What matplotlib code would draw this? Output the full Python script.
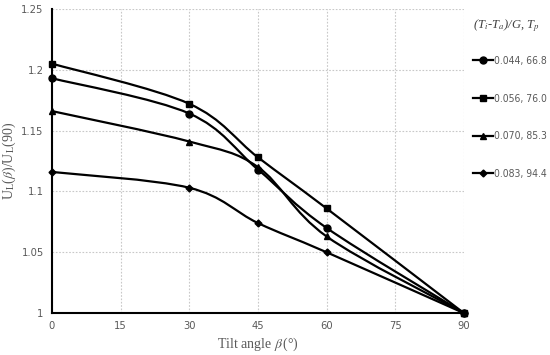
import numpy as np
import matplotlib
matplotlib.use("Agg")
import matplotlib.pyplot as plt
from matplotlib.path import Path
from matplotlib.patches import PathPatch
from matplotlib.lines import Line2D

plt.rcParams['mathtext.fontset'] = 'stix'

# data
tilt = [0, 30, 45, 60, 90]
labels = ['0.044, 66.8', '0.056, 76.0', '0.070, 85.3', '0.083, 94.4']
ratio_044 = [1.193, 1.164, 1.118, 1.070, 1.0]
ratio_056 = [1.205, 1.172, 1.128, 1.086, 1.0]
ratio_070 = [1.166, 1.141, 1.120, 1.063, 1.0]
ratio_083 = [1.116, 1.103, 1.074, 1.050, 1.0]
series = [ratio_044, ratio_056, ratio_070, ratio_083]
markers = ['o', 's', '^', 'D']
msizes = [5, 5, 4.5, 3.5]


# smooth line through the points, like Excel's "smoothed line"
def smooth_path(x, y):
    pts = np.column_stack([x, y]).astype(float)
    ext = np.vstack([pts[0], pts, pts[-1]])
    verts = [pts[0]]
    codes = [Path.MOVETO]
    for i in range(len(pts) - 1):
        p0, p1, p2, p3 = ext[i], ext[i + 1], ext[i + 2], ext[i + 3]
        c1 = p1 + (p2 - p0) / 6
        c2 = p2 - (p3 - p1) / 6
        verts += [c1, c2, p2]
        codes += [Path.CURVE4] * 3
    return Path(verts, codes)


fig = plt.figure(figsize=(5.5, 3.55), dpi=100)
ax = fig.add_axes([0.0945, 0.118, 0.749, 0.857])

for vals, m, ms in zip(series, markers, msizes):
    ax.add_patch(PathPatch(smooth_path(tilt, vals), fill=False, edgecolor='black', lw=1.6, zorder=3))
    ax.plot(tilt, vals, linestyle='none', marker=m, markersize=ms, color='black', zorder=4, clip_on=False)

ax.set_xlim(0, 90)
ax.set_ylim(1, 1.25)
ax.set_xticks(np.arange(0, 91, 15))
ax.set_yticks([1, 1.05, 1.1, 1.15, 1.2, 1.25])
ax.set_yticklabels(['1', '1.05', '1.1', '1.15', '1.2', '1.25'])
ax.grid(True, linestyle=(0, (1.5, 1.5)), color='#c8c8c8', lw=0.8)
ax.set_axisbelow(True)
for s in ['top', 'right']:
    ax.spines[s].set_visible(False)
for s in ['left', 'bottom']:
    ax.spines[s].set_linewidth(1.5)
ax.tick_params(length=0, pad=6, labelsize=8, labelcolor='#595959')
for t in ax.get_xticklabels() + ax.get_yticklabels():
    t.set_family('DejaVu Sans')
    t.set_stretch('condensed')

ax.set_xlabel(r'Tilt angle $\beta\,$(°)', family='Liberation Serif', fontsize=10, color='#595959', labelpad=3)
ax.set_ylabel(r'U$_\mathrm{L}$($\beta$)/U$_\mathrm{L}$(90)', family='Liberation Serif', fontsize=10,
              color='#595959', labelpad=2)

handles = [Line2D([], [], color='black', lw=1.6, marker=m, markersize=ms) for m, ms in zip(markers, msizes)]
leg = fig.legend(handles, labels, loc='upper left', bbox_to_anchor=(0.86, 0.952),
                 frameon=False, fontsize=7.5, labelspacing=2.65, handlelength=1.9,
                 handletextpad=0.1, borderaxespad=0, borderpad=0, title='(T$_i$-T$_a$)/G, T$_p$',
                 title_fontsize=9)
leg._legend_box.align = 'left'
leg._legend_box.sep = 16
for t in leg.get_texts():
    t.set_color('#595959')
    t.set_family('DejaVu Sans')
    t.set_stretch('condensed')
tt = leg.get_title()
tt.set_color('#404040')
tt.set_family('Liberation Serif')
tt.set_style('italic')

fig.savefig('out.png', dpi=100)
